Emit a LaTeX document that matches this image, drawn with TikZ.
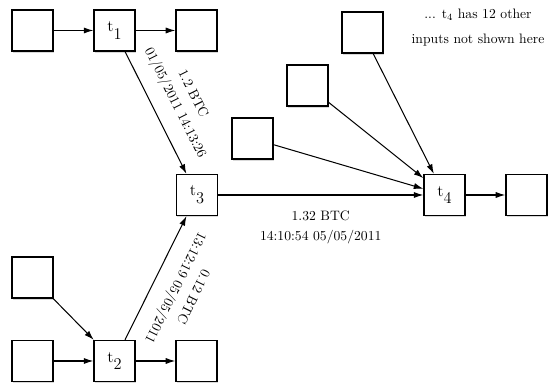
\documentclass[tikz,border=0pt]{standalone}
\usetikzlibrary{arrows.meta,positioning,shadows}

\tikzset{
  tx/.style={draw, line width=1pt, fill=white, minimum size=30pt, inner sep=0pt,
    drop shadow={shadow xshift=0.6pt, shadow yshift=-1.2pt, opacity=0.3}},
  flow/.style={line width=0.75pt},
  info/.style={align=center, font=\normalsize}
}
\newcommand{\txname}[1]{\large t\raisebox{-1.1ex}{#1}}

\begin{document}
\begin{tikzpicture}[x=0.732pt, y=0.732pt, >={Latex[length=7pt,width=4.5pt]}]
\useasboundingbox (0,0) rectangle (548,386);

% top row
\node[tx] (t1) at (114.5,355.5) {\txname{1}};
\node[tx, left=29pt of t1] (in1) {};
\node[tx, right=29pt of t1] (out1) {};

% middle row
\node[tx] (t3) at (197,191) {\txname{3}};
\node[tx] (t4) at (444.5,191) {\txname{4}};
\node[tx, right=29pt of t4] (out4) {};

% other inputs of t4
\node[tx] (in4a) at (252.5,247.5) {};
\node[tx] (in4b) at (307.5,300.5) {};
\node[tx] (in4c) at (362.5,353.5) {};
\node[info] (note) at (478,358.5) {... $\mathrm{t}_4$ has 12 other\\[6pt] inputs not shown here};

% bottom row
\node[tx] (t2) at (114.5,25) {\txname{2}};
\node[tx, left=29pt of t2] (in2) {};
\node[tx, right=29pt of t2] (out2) {};
\node[tx] (in2b) at (32.5,108.5) {};

\draw[flow, ->] (in1) -- (t1);
\draw[flow, ->] (t1) -- (out1);
\draw[flow, ->] (in2) -- (t2);
\draw[flow, ->] (in2b) -- (t2);
\draw[flow, ->] (t2) -- (out2);
\draw[flow, ->] (t1) -- node[info, sloped, above=7pt] {1.2 BTC\\[2.5pt] 01/05/2011 14:13:26} (t3);
\draw[flow, <-] (t3) -- node[info, sloped, allow upside down, above=7pt] {0.12 BTC\\[2.5pt] 13:12:19 05/05/2011} (t2);
\draw[flow, ->] (t3) -- node[info, below=8pt] {1.32 BTC\\[2.5pt] 14:10:54 05/05/2011} (t4);
\draw[flow, ->] (in4a) -- (t4);
\draw[flow, ->] (in4b) -- (t4);
\draw[flow, ->] (in4c) -- (t4);
\draw[flow, ->] (t4) -- (out4);
\end{tikzpicture}
\end{document}
